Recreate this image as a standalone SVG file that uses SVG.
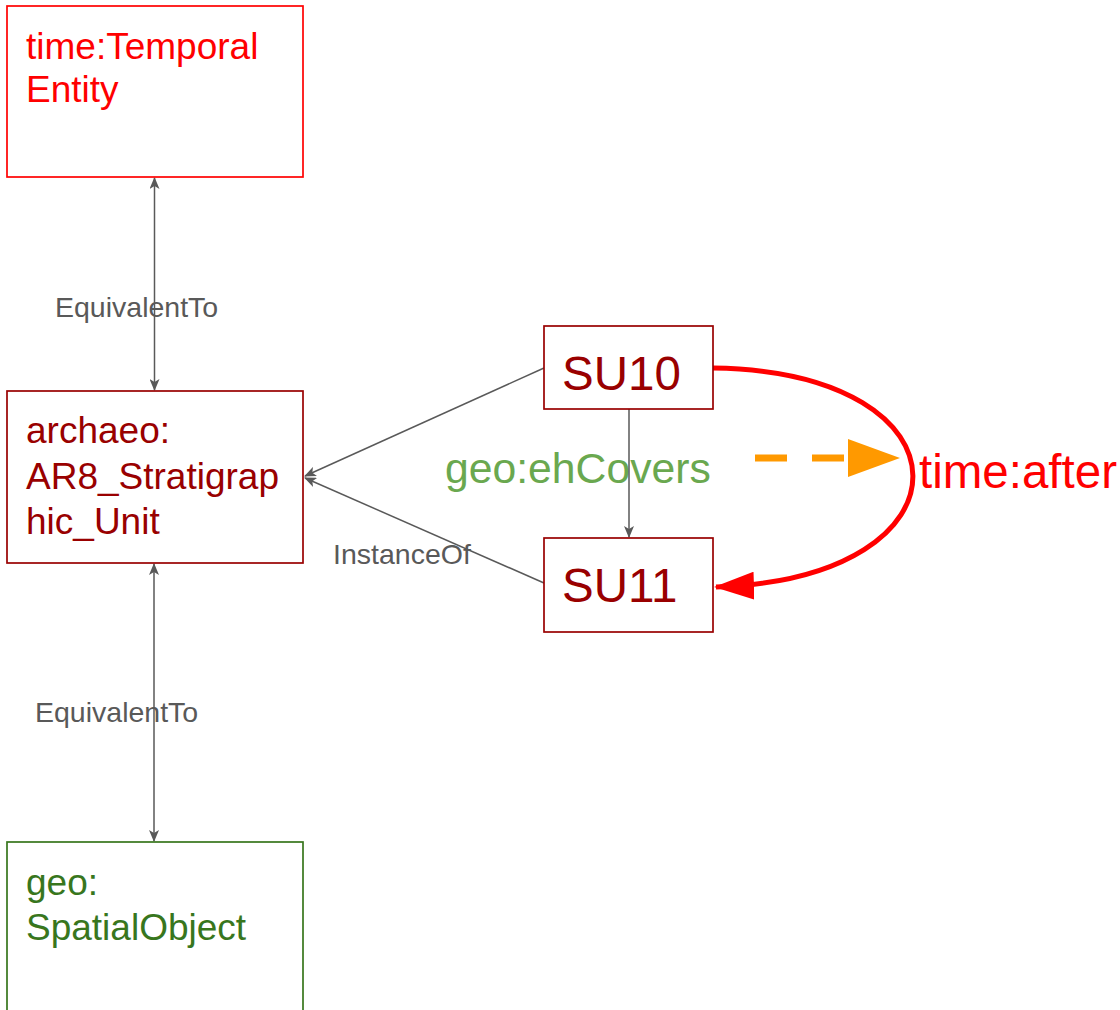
<svg xmlns="http://www.w3.org/2000/svg" width="1120" height="1010" viewBox="0 0 1120 1010">
<defs>
<style>
text{font-family:"Liberation Sans",Arial,sans-serif}
.box{fill:#fff;stroke-width:1.7}
.gl{stroke:#595959;stroke-width:1.5;fill:none}
.lbl{fill:#595959;font-size:28.5px}
.dr{fill:#990000}
.big{font-size:37px}
.su{font-size:47.5px}
</style>
<marker id="ga" viewBox="0 0 12 10" refX="11" refY="5" markerWidth="12" markerHeight="10" markerUnits="userSpaceOnUse" orient="auto-start-reverse">
<path d="M0,0 L12,5 L0,10 L3,5 z" fill="#595959"/>
</marker>
<marker id="ra" viewBox="0 0 40 28" refX="38" refY="14" markerWidth="40" markerHeight="28" markerUnits="userSpaceOnUse" orient="auto">
<path d="M0,0 L40,14 L0,28 z" fill="#ff0000"/>
</marker>
</defs>
<rect width="1120" height="1010" fill="#fff"/>
<g id="labels">
<text class="lbl" x="55" y="317">EquivalentTo</text>
<text class="lbl" x="35" y="722">EquivalentTo</text>
<text class="lbl" x="333" y="564">InstanceOf</text>
<text x="445" y="483" fill="#6aa84f" font-size="42.7">geo:ehCovers</text>
<text x="919" y="488" fill="#ff0000" font-size="47.5">time:after</text>
</g>
<g id="connectors">
<line class="gl" x1="154.5" y1="178" x2="154.5" y2="390" marker-start="url(#ga)" marker-end="url(#ga)"/>
<line class="gl" x1="154" y1="564" x2="154" y2="841" marker-start="url(#ga)" marker-end="url(#ga)"/>
<line class="gl" x1="544" y1="368" x2="305" y2="476" marker-end="url(#ga)"/>
<line class="gl" x1="544" y1="583" x2="305" y2="478" marker-end="url(#ga)"/>
<line class="gl" x1="629" y1="409" x2="629" y2="537" marker-end="url(#ga)"/>
<path d="M713,368 C978,372 980,578 716,587" fill="none" stroke="#ff0000" stroke-width="5" marker-end="url(#ra)"/>
<line x1="755" y1="458" x2="850" y2="458" stroke="#ff9900" stroke-width="7" stroke-dasharray="32 25"/>
<path d="M848,439 L900,458 L848,477 z" fill="#ff9900"/>
</g>
<g id="temporal-entity">
<rect class="box" x="7" y="6" width="296" height="171" stroke="#ff0000"/>
<text class="big" x="26" y="59" fill="#ff0000">time:Temporal</text>
<text class="big" x="26" y="102" fill="#ff0000">Entity</text>
</g>
<g id="stratigraphic-unit">
<rect class="box" x="7" y="391" width="296" height="172" stroke="#990000"/>
<text class="dr big" x="26" y="443">archaeo:</text>
<text class="dr big" x="26" y="489">AR8_Stratigrap</text>
<text class="dr big" x="26" y="534">hic_Unit</text>
</g>
<g id="spatial-object">
<rect class="box" x="7" y="842" width="296" height="200" stroke="#38761d"/>
<text class="big" x="26" y="895" fill="#38761d">geo:</text>
<text class="big" x="26" y="940" fill="#38761d">SpatialObject</text>
</g>
<g id="su10">
<rect class="box" x="544" y="326" width="169" height="83" stroke="#990000"/>
<text class="dr su" x="562" y="390">SU10</text>
</g>
<g id="su11">
<rect class="box" x="544" y="538" width="169" height="94" stroke="#990000"/>
<text class="dr su" x="562" y="602">SU11</text>
</g>
</svg>
